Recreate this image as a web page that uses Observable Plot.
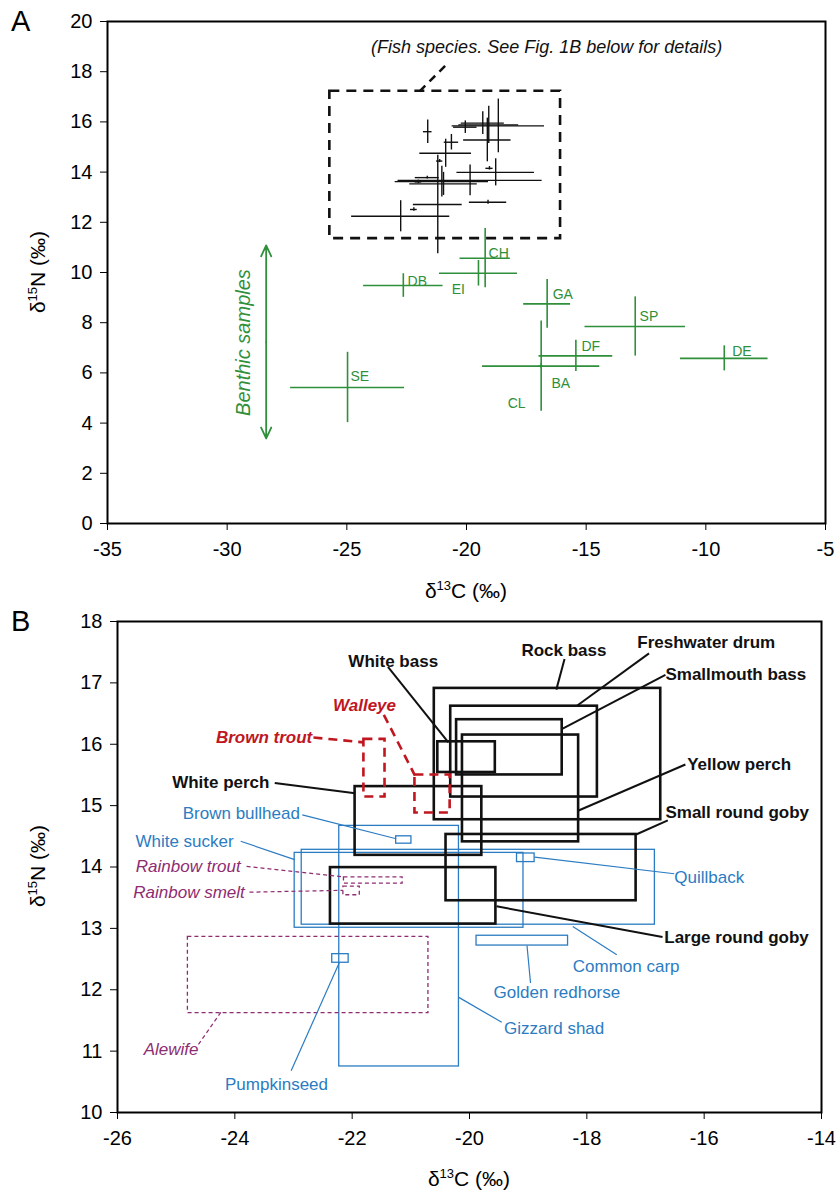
<!DOCTYPE html>
<html><head><meta charset="utf-8">
<script src="https://cdn.jsdelivr.net/npm/d3@7"></script>
<script src="https://cdn.jsdelivr.net/npm/@observablehq/plot@0.6"></script>
<style>
body{margin:0;background:#fff;}
#fig{position:relative;width:836px;height:1193px;font-family:"Liberation Sans",Arial,Helvetica,sans-serif;color:#000;overflow:hidden;background:#fff}
#fig svg{display:block;position:absolute;left:0}
.lab{position:absolute;font-size:21px;white-space:nowrap;transform:translate(-50%,-50%);line-height:1}
.lab sup{font-size:13px;position:relative;top:-8px;vertical-align:baseline}
.rot{transform:translate(-50%,-50%) rotate(-90deg)}
.panel{position:absolute;font-size:29px;line-height:1}
</style></head><body><div id="fig"></div>
<script>
// ---------- Fish species (mean ± SD of δ13C and δ15N, ‰) ----------
const species = ["White bass","Rock bass","Freshwater drum","Smallmouth bass","Yellow perch","White perch","Small round goby","Large round goby","Walleye","Brown trout","Brown bullhead","White sucker","Common carp","Quillback","Golden redhorse","Gizzard shad","Pumpkinseed","Rainbow trout","Rainbow smelt","Alewife"];
const speciesGroup = ["g1","g1","g1","g1","g1","g1","g1","g1","g2","g2","g3","g3","g3","g3","g3","g3","g3","g4","g4","g4"];
const meanC = [-20.05,-18.67,-19.07,-19.32,-19.13,-20.87,-18.78,-20.96,-20.63,-21.62,-21.12,-21.03,-19.85,-19.04,-19.10,-21.20,-22.20,-21.64,-22.01,-22.75];
const meanN = [15.79,15.84,15.88,15.95,15.28,14.75,13.99,13.53,15.19,15.61,14.44,13.62,13.67,14.15,12.80,12.71,12.51,13.78,13.61,12.24];
const sdC   = [0.49,1.93,1.25,0.90,0.99,1.08,1.62,1.41,0.30,0.18,0.13,1.95,3.01,0.15,0.78,1.02,0.14,0.50,0.14,2.05];
const sdN   = [0.25,1.07,0.74,0.45,0.87,0.56,0.54,0.46,0.31,0.47,0.06,0.61,0.61,0.07,0.08,1.96,0.07,0.05,0.07,0.62];

// label anchor points (data units) and leader lines for panel B
const labelC = [-21.30,-18.39,-17.14,-16.66,-16.29,-23.41,-16.66,-16.68,-21.79,-22.68,-22.89,-24.02,-18.24,-16.51,-18.51,-19.41,-23.29,-23.90,-23.83,-24.62];
const labelN = [17.35,17.53,17.66,17.13,15.67,15.37,14.88,12.85,16.63,16.11,14.87,14.42,12.37,13.83,11.95,11.37,10.45,14.01,13.59,11.02];
const labelAnchor = ["middle","middle","start","start","start","end","start","start","middle","end","end","end","start","start","middle","start","middle","end","end","end"];
const leaderFromC = [-21.39,-18.38,-16.94,-16.66,-16.32,-23.32,-16.62,-16.71,-21.46,-22.66,-22.85,-23.90,-17.49,-16.51,-18.96,-19.45,-23.04,-23.80,-23.75,-24.62];
const leaderFromN = [17.26,17.39,17.48,17.13,15.67,15.37,14.76,12.86,16.48,16.11,14.85,14.42,12.57,13.89,12.11,11.47,10.68,14.01,13.59,11.11];
const leaderToC   = [-20.36,-18.52,-18.18,-18.42,-18.14,-21.95,-17.16,-19.54,-20.93,-21.80,-21.25,-22.98,-18.24,-18.89,-19.02,-20.19,-22.22,-22.16,-22.16,-24.24];
const leaderToN   = [16.03,16.89,16.62,16.25,14.92,15.20,14.53,13.36,15.49,16.03,14.46,14.12,13.03,14.16,12.72,11.88,12.44,13.84,13.62,11.63];

// ---------- Benthic samples (panel A) ----------
const benthicCodes = ["SE","DB","EI","CH","GA","SP","DF","BA","CL","DE"];
const benthicC   = [-24.97,-22.64,-19.50,-19.22,-16.63,-12.95,-15.43,-16.88,-16.88,-9.23];
const benthicN   = [5.42,9.48,9.97,10.57,8.75,7.85,6.68,6.27,6.27,6.58];
const benthicSdC = [2.38,1.66,1.63,1.05,0.98,2.10,1.54,2.45,0.10,1.83];
const benthicSdN = [1.40,0.47,0.51,1.18,0.97,1.18,0.62,0.10,1.80,0.50];
const benthicLabelC = [-24.85,-22.46,-20.62,-19.08,-16.40,-12.77,-15.20,-16.45,-18.28,-8.90];
const benthicLabelN = [5.84,9.66,9.34,10.74,9.14,8.24,7.04,5.59,4.79,6.84];

// ---------- Panel A annotations ----------
const fishBoxC = [-25.71,-16.07];
const fishBoxN = [11.35,17.22];
const noteText = "(Fish species. See Fig. 1B below for details)";
const notePos = [-16.65, 18.96];
const noteLeaderC = [-21.96,-20.79];
const noteLeaderN = [17.22,18.33];
const benthicArrowC = -28.37;
const benthicArrowN = [3.39, 11.08];
const benthicText = "Benthic samples";
const benthicTextPos = [-29.32, 7.21];

// ---------- Axes ----------
const xTicksA = [-35,-30,-25,-20,-15,-10,-5];
const yTicksA = [0,2,4,6,8,10,12,14,16,18,20];
const xTicksB = [-26,-24,-22,-20,-18,-16,-14];
const yTicksB = [10,11,12,13,14,15,16,17,18];

// ---------- build ----------
const FONT = "Liberation Sans, Arial, Helvetica, sans-serif";
const GREEN = "#2f8f3a";
const groupStyle = {
  g1: {color:"#111111", width:2.6, dash:null, weight:"bold", fstyle:"normal"},
  g2: {color:"#c0161f", width:2.6, dash:"9,6", weight:"bold", fstyle:"italic"},
  g3: {color:"#2b7cc2", width:1.3, dash:null, weight:"normal", fstyle:"normal"},
  g4: {color:"#8e2c72", width:1.3, dash:"4,3", weight:"normal", fstyle:"italic"}
};

const fish = species.map((name,i)=>({name, group:speciesGroup[i], c:meanC[i], n:meanN[i], sc:sdC[i], sn:sdN[i],
  lc:labelC[i], ln:labelN[i], anchor:labelAnchor[i], fc:leaderFromC[i], fn:leaderFromN[i], tc:leaderToC[i], tn:leaderToN[i]}));
const benthic = benthicCodes.map((code,i)=>({code, c:benthicC[i], n:benthicN[i], sc:benthicSdC[i], sn:benthicSdN[i], lc:benthicLabelC[i], ln:benthicLabelN[i]}));

const fmt = d => String(d);

const plotA = Plot.plot({
  width: 836, height: 605,
  marginTop: 21, marginBottom: 82, marginLeft: 107, marginRight: 11,
  style: {fontFamily: FONT, fontSize: "20px", background: "white", color: "black", overflow: "visible"},
  x: {domain: [-35,-5], ticks: xTicksA, tickFormat: fmt, label: null, tickSize: 7, tickPadding: 11},
  y: {domain: [0,20], ticks: yTicksA, tickFormat: fmt, label: null, tickSize: 7, tickPadding: 8},
  marks: [
    Plot.rect([{}], {x1: fishBoxC[0], x2: fishBoxC[1], y1: fishBoxN[0], y2: fishBoxN[1], fill: "none", stroke: "#111", strokeWidth: 2.6, strokeDasharray: "10,7"}),
    Plot.link([{}], {x1: noteLeaderC[0], x2: noteLeaderC[1], y1: noteLeaderN[0], y2: noteLeaderN[1], stroke: "#111", strokeWidth: 2.5, strokeDasharray: "8,6"}),
    Plot.text([noteText], {x: notePos[0], y: notePos[1], text: d => d, fontStyle: "italic", fontSize: 18, fill: "#111"}),
    Plot.ruleY(fish, {y: "n", x1: d => d.c - d.sc, x2: d => d.c + d.sc, stroke: "#111", strokeWidth: 1.4}),
    Plot.ruleX(fish, {x: "c", y1: d => d.n - d.sn, y2: d => d.n + d.sn, stroke: "#111", strokeWidth: 1.4}),
    Plot.ruleY(benthic, {y: "n", x1: d => d.c - d.sc, x2: d => d.c + d.sc, stroke: GREEN, strokeWidth: 1.6}),
    Plot.ruleX(benthic, {x: "c", y1: d => d.n - d.sn, y2: d => d.n + d.sn, stroke: GREEN, strokeWidth: 1.6}),
    Plot.text(benthic, {x: "lc", y: "ln", text: "code", textAnchor: "start", fill: GREEN, fontSize: 14}),
    Plot.arrow(benthicArrowN, {x1: benthicArrowC, x2: benthicArrowC, y1: (benthicArrowN[0]+benthicArrowN[1])/2, y2: d => d, stroke: GREEN, strokeWidth: 1.8, headLength: 10, headAngle: 50}),
    Plot.text([benthicText], {x: benthicTextPos[0], y: benthicTextPos[1], text: d => d, rotate: -90, fontStyle: "italic", fontSize: 20, fill: GREEN}),
    Plot.frame({stroke: "black", strokeWidth: 2})
  ]
});

const order = ["g3","g4","g1","g2"];
const marksB = [];
for (const g of order) {
  const s = groupStyle[g];
  const data = fish.filter(d => d.group === g);
  marksB.push(Plot.rect(data, {x1: d => d.c - d.sc, x2: d => d.c + d.sc, y1: d => d.n - d.sn, y2: d => d.n + d.sn,
    fill: "none", stroke: s.color, strokeWidth: s.width, strokeDasharray: s.dash}));
}
for (const g of order) {
  const s = groupStyle[g];
  const data = fish.filter(d => d.group === g);
  marksB.push(Plot.link(data, {x1: "fc", y1: "fn", x2: "tc", y2: "tn", stroke: s.color,
    strokeWidth: g === "g1" ? 2 : g === "g2" ? 2.6 : 1.2, strokeDasharray: s.dash}));
}
for (const g of order) {
  const s = groupStyle[g];
  for (const a of ["start","middle","end"]) {
    const data = fish.filter(d => d.group === g && d.anchor === a);
    if (!data.length) continue;
    marksB.push(Plot.text(data, {x: "lc", y: "ln", text: "name", textAnchor: a, fill: s.color, fontWeight: s.weight, fontStyle: s.fstyle, fontSize: 17}));
  }
}
marksB.push(Plot.frame({stroke: "black", strokeWidth: 2}));

const plotB = Plot.plot({
  width: 836, height: 588,
  marginTop: 16, marginBottom: 81, marginLeft: 117, marginRight: 15,
  style: {fontFamily: FONT, fontSize: "20px", background: "white", color: "black", overflow: "visible"},
  x: {domain: [-26,-14], ticks: xTicksB, tickFormat: fmt, label: null, tickSize: 7, tickPadding: 11},
  y: {domain: [10,18], ticks: yTicksB, tickFormat: fmt, label: null, tickSize: 7, tickPadding: 8},
  marks: marksB
});

const fig = document.getElementById("fig");
plotA.style.top = "0px";
plotB.style.top = "605px";
fig.appendChild(plotA);
fig.appendChild(plotB);

function addLabel(html, x, y, cls) {
  const el = document.createElement("div");
  el.className = cls;
  el.innerHTML = html;
  el.style.left = x + "px";
  el.style.top = y + "px";
  fig.appendChild(el);
}
const xTitle = "&delta;<sup>13</sup>C (&permil;)";
const yTitle = "&delta;<sup>15</sup>N (&permil;)";
addLabel(xTitle, 466, 590, "lab");
addLabel(yTitle, 37, 272, "lab rot");
addLabel(xTitle, 469, 1178, "lab");
addLabel(yTitle, 37, 866, "lab rot");
const pa = document.createElement("div"); pa.className = "panel"; pa.textContent = "A"; pa.style.left = "11px"; pa.style.top = "7px"; fig.appendChild(pa);
const pb = document.createElement("div"); pb.className = "panel"; pb.textContent = "B"; pb.style.left = "11px"; pb.style.top = "607px"; fig.appendChild(pb);
</script></body></html>
